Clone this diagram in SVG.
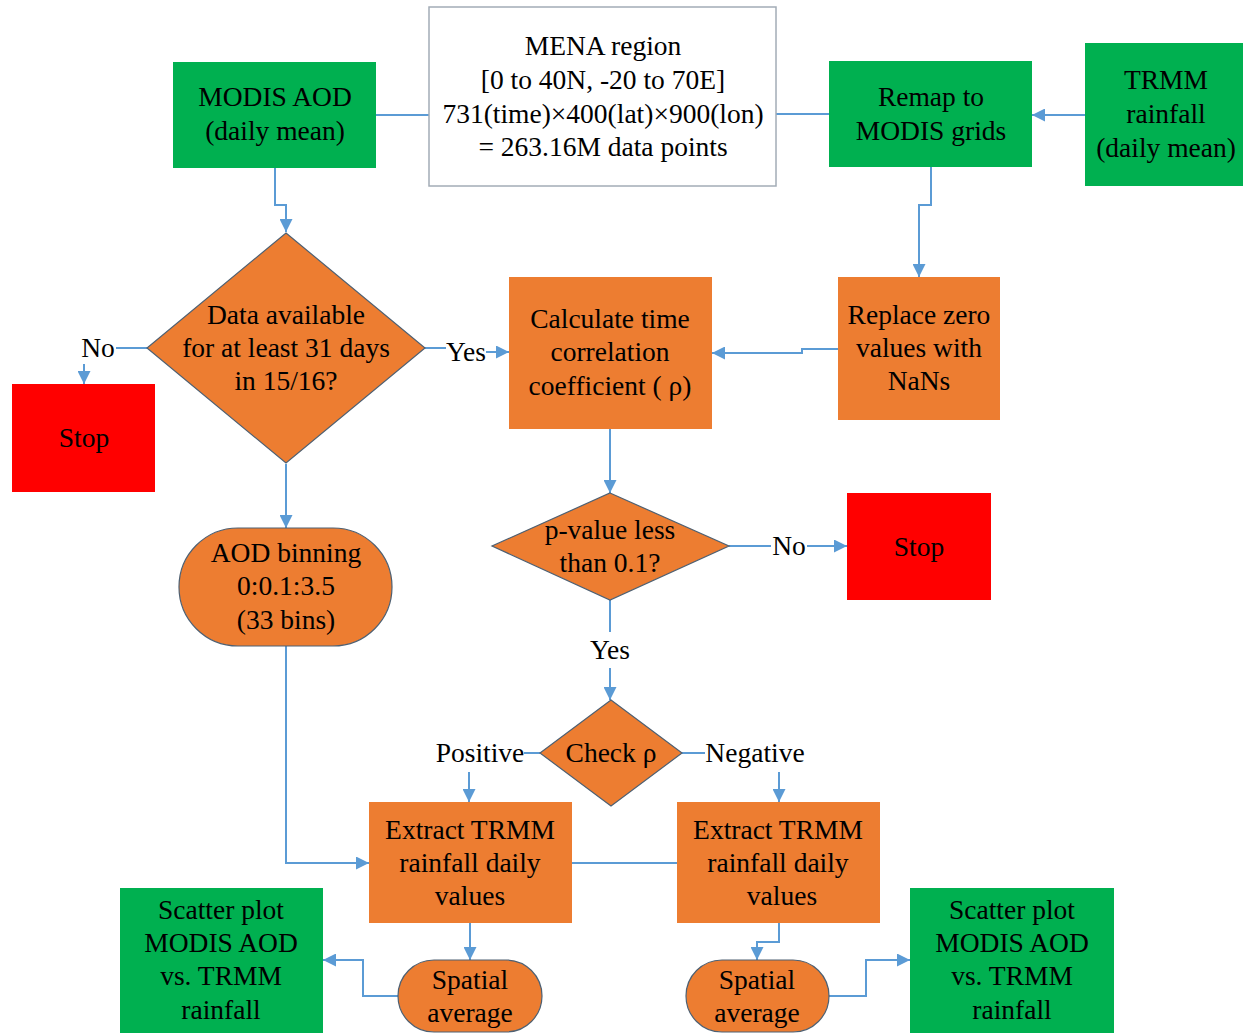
<svg xmlns="http://www.w3.org/2000/svg" width="1243" height="1033" viewBox="0 0 1243 1033">
<style>
  text { font-family: "Liberation Serif", "Times New Roman", serif; font-size: 27.5px; fill: #000; text-anchor: middle; }
  .green { fill: #00b050; }
  .orange { fill: #ed7d31; }
  .orangeb { fill: #ed7d31; stroke: #4e6072; stroke-width: 1.2; }
  .red { fill: #ff0000; }
  .white { fill: #fff; stroke: #a3acb6; stroke-width: 1.5; }
  .conn path { fill: none; stroke: #5b9bd5; stroke-width: 2; }
  .arr { marker-end: url(#ah); }
</style>
<defs>
  <marker id="ah" viewBox="0 0 10 10" refX="10" refY="5" markerWidth="13" markerHeight="13" markerUnits="userSpaceOnUse" orient="auto">
    <path d="M0,0 L10,5 L0,10 z" fill="#5b9bd5"/>
  </marker>
</defs>
<rect width="1243" height="1033" fill="#fff"/>

<g class="conn">
  <path d="M376,115 H429"/>
  <path d="M776,114 H829"/>
  <path class="arr" d="M1085,115 H1032"/>
  <path class="arr" d="M275,168 V205 H286 V232"/>
  <path d="M147,348 H116"/>
  <path class="arr" d="M84,364 V384"/>
  <path d="M425,348 H446"/>
  <path class="arr" d="M486,352 H509"/>
  <path class="arr" d="M931,167 V205 H919 V277"/>
  <path class="arr" d="M838,349 H802 V353 H712"/>
  <path class="arr" d="M610,429 V493"/>
  <path d="M729,546 H771"/>
  <path class="arr" d="M807,546 H847"/>
  <path d="M610,600 V632"/>
  <path class="arr" d="M610,668 V700"/>
  <path d="M540,753 H524"/>
  <path class="arr" d="M469,772 V802"/>
  <path d="M682,753 H705"/>
  <path class="arr" d="M779,772 V802"/>
  <path class="arr" d="M286,464 V528"/>
  <path class="arr" d="M286,646 V863 H369"/>
  <path d="M572,863 H677"/>
  <path class="arr" d="M470,923 V960"/>
  <path class="arr" d="M398,996 H363 V960 H323"/>
  <path class="arr" d="M779,923 V942 H757 V960"/>
  <path class="arr" d="M829,996 H866 V960 H910"/>
</g>

<g id="labels">
  <text x="98" y="357">No</text>
  <text x="466" y="361">Yes</text>
  <text x="789" y="555">No</text>
  <text x="610" y="659">Yes</text>
  <text x="480" y="762">Positive</text>
  <text x="755" y="762">Negative</text>
</g>

<g id="modis">
  <rect class="green" x="173" y="62" width="203" height="106"/>
  <text x="275" y="106">MODIS AOD</text>
  <text x="275" y="140">(daily mean)</text>
</g>
<g id="mena">
  <rect class="white" x="429" y="7" width="347" height="179"/>
  <text x="603" y="55">MENA region</text>
  <text x="603" y="89">[0 to 40N, -20 to 70E]</text>
  <text x="603" y="123">731(time)×400(lat)×900(lon)</text>
  <text x="603" y="156">= 263.16M data points</text>
</g>
<g id="remap">
  <rect class="green" x="829" y="61" width="203" height="106"/>
  <text x="931" y="106">Remap to</text>
  <text x="931" y="140">MODIS grids</text>
</g>
<g id="trmm">
  <rect class="green" x="1085" y="43" width="160" height="143"/>
  <text x="1166" y="89">TRMM</text>
  <text x="1166" y="123">rainfall</text>
  <text x="1166" y="157">(daily mean)</text>
</g>
<g id="decision1">
  <polygon class="orangeb" points="286,233 425,348 286,463 147,348"/>
  <text x="286" y="324">Data available</text>
  <text x="286" y="357">for at least 31 days</text>
  <text x="286" y="390">in 15/16?</text>
</g>
<g id="stop1">
  <rect class="red" x="12" y="384" width="143" height="108"/>
  <text x="84" y="447">Stop</text>
</g>
<g id="calc">
  <rect class="orange" x="509" y="277" width="203" height="152"/>
  <text x="610" y="328">Calculate time</text>
  <text x="610" y="361">correlation</text>
  <text x="610" y="395">coefficient ( ρ)</text>
</g>
<g id="replace">
  <rect class="orange" x="838" y="277" width="162" height="143"/>
  <text x="919" y="324">Replace zero</text>
  <text x="919" y="357">values with</text>
  <text x="919" y="390">NaNs</text>
</g>
<g id="decision2">
  <polygon class="orangeb" points="610,493 729,546 610,600 492,546"/>
  <text x="610" y="539">p-value less</text>
  <text x="610" y="572">than 0.1?</text>
</g>
<g id="stop2">
  <rect class="red" x="847" y="493" width="144" height="107"/>
  <text x="919" y="556">Stop</text>
</g>
<g id="aodbin">
  <rect class="orangeb" x="179" y="528" width="213" height="118" rx="59" ry="59"/>
  <text x="286" y="562">AOD binning</text>
  <text x="286" y="595">0:0.1:3.5</text>
  <text x="286" y="629">(33 bins)</text>
</g>
<g id="decision3">
  <polygon class="orangeb" points="611,700 682,753 611,806 540,753"/>
  <text x="611" y="762">Check ρ</text>
</g>
<g id="extract1">
  <rect class="orange" x="369" y="802" width="203" height="121"/>
  <text x="470" y="839">Extract TRMM</text>
  <text x="470" y="872">rainfall daily</text>
  <text x="470" y="905">values</text>
</g>
<g id="extract2">
  <rect class="orange" x="677" y="802" width="203" height="121"/>
  <text x="778" y="839">Extract TRMM</text>
  <text x="778" y="872">rainfall daily</text>
  <text x="782" y="905">values</text>
</g>
<g id="spatial1">
  <rect class="orangeb" x="398" y="960" width="144" height="72" rx="36" ry="36"/>
  <text x="470" y="989">Spatial</text>
  <text x="470" y="1022">average</text>
</g>
<g id="spatial2">
  <rect class="orangeb" x="686" y="960" width="143" height="72" rx="36" ry="36"/>
  <text x="757" y="989">Spatial</text>
  <text x="757" y="1022">average</text>
</g>
<g id="scatter1">
  <rect class="green" x="120" y="888" width="203" height="147"/>
  <text x="221" y="919">Scatter plot</text>
  <text x="221" y="952">MODIS AOD</text>
  <text x="221" y="985">vs. TRMM</text>
  <text x="221" y="1019">rainfall</text>
</g>
<g id="scatter2">
  <rect class="green" x="910" y="888" width="204" height="147"/>
  <text x="1012" y="919">Scatter plot</text>
  <text x="1012" y="952">MODIS AOD</text>
  <text x="1012" y="985">vs. TRMM</text>
  <text x="1012" y="1019">rainfall</text>
</g>
</svg>
